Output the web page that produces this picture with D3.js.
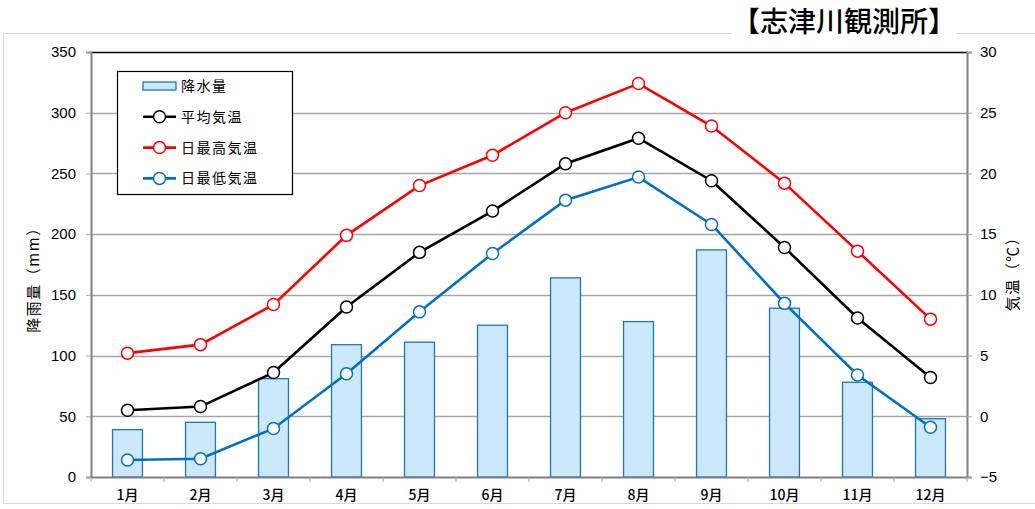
<!DOCTYPE html>
<html>
<head>
<meta charset="utf-8">
<script src="https://cdn.jsdelivr.net/npm/d3@7"></script>
<style>
  body { margin: 0; background: #fff; }
  svg { display: block; }
  .jp { font-family: "Noto Sans CJK JP", sans-serif; }
  .num { font-family: "Liberation Sans", Arial, sans-serif; }
</style>
</head>
<body>
<svg id="chart" width="1035" height="509"></svg>
<script>
// data
const months = ["1月", "2月", "3月", "4月", "5月", "6月", "7月", "8月", "9月", "10月", "11月", "12月"];
const rain = [39, 45, 81, 109, 111, 125, 164, 128, 187, 139, 78, 48];
const tempAvg = [0.5, 0.8, 3.6, 9.0, 13.5, 16.9, 20.8, 22.9, 19.4, 13.9, 8.1, 3.2];
const tempMax = [5.2, 5.9, 9.2, 14.9, 19.0, 21.5, 25.0, 27.4, 23.9, 19.2, 13.6, 8.0];
const tempMin = [-3.6, -3.5, -1.0, 3.5, 8.6, 13.4, 17.8, 19.7, 15.8, 9.3, 3.4, -0.9];
const rainTicks = [0, 50, 100, 150, 200, 250, 300, 350];
const tempTicks = [-5, 0, 5, 10, 15, 20, 25, 30];

const margin = { top: 52, right: 68, bottom: 32, left: 91 };
const W = 1035, H = 509;
const width = W - margin.left - margin.right;
const height = H - margin.top - margin.bottom;

const svg = d3.select("#chart");

// outer frame
svg.append("rect")
  .attr("x", 3.5).attr("y", 33.5)
  .attr("width", W + 10).attr("height", 470)
  .attr("fill", "none").attr("stroke", "#d9d9d9");

// title
const title = svg.append("text")
  .attr("class", "jp")
  .attr("x", 844).attr("y", 32)
  .attr("text-anchor", "middle")
  .attr("font-size", 28)
  .attr("font-weight", 500)
  .text("【志津川観測所】");
const tb = title.node().getBBox();
svg.insert("rect", "text")
  .attr("x", tb.x).attr("y", 20)
  .attr("width", tb.width).attr("height", 20)
  .attr("fill", "#fff");

const x = d3.scaleBand().domain(months).range([0, width]);
const yL = d3.scaleLinear().domain([0, 350]).range([height, 0]);
const yR = d3.scaleLinear().domain([-5, 30]).range([height, 0]);

const g = svg.append("g").attr("transform", `translate(${margin.left},${margin.top})`);

// gridlines
g.append("g")
  .selectAll("line")
  .data(rainTicks.filter(d => d > 0 && d < 350))
  .join("line")
  .attr("x1", 0).attr("x2", width)
  .attr("y1", d => Math.round(yL(d)) + 0.5).attr("y2", d => Math.round(yL(d)) + 0.5)
  .attr("stroke", "#a6a6a6").attr("stroke-width", 1.3);

// top border
g.append("line")
  .attr("x1", 0).attr("x2", width).attr("y1", 0.5).attr("y2", 0.5)
  .attr("stroke", "#000").attr("stroke-width", 1.3);

// bars
const barW = x.bandwidth() * 0.41;
g.append("g")
  .selectAll("rect")
  .data(rain)
  .join("rect")
  .attr("x", (d, i) => x(months[i]) + (x.bandwidth() - barW) / 2)
  .attr("y", d => yL(d))
  .attr("width", barW)
  .attr("height", d => height - yL(d))
  .attr("fill", "#cce9fb")
  .attr("stroke", "#1b75c2")
  .attr("stroke-width", 1.3);

// axes
const axisL = g.append("g")
  .call(d3.axisLeft(yL).tickValues(rainTicks).tickSize(5).tickPadding(10));
const axisR = g.append("g")
  .attr("transform", `translate(${width},0)`)
  .call(d3.axisRight(yR).tickValues(tempTicks).tickSize(5).tickPadding(8)
    .tickFormat(d => d < 0 ? "−" + Math.abs(d) : d));
const axisB = g.append("g")
  .attr("transform", `translate(0,${height})`)
  .call(d3.axisBottom(x).tickSize(0).tickPadding(13));

[axisL, axisR].forEach(a => {
  a.select(".domain").attr("stroke", "#808080").attr("stroke-width", 2);
  a.selectAll(".tick line").attr("stroke", "#a6a6a6");
  a.selectAll("text").attr("class", "num").attr("font-size", 15).attr("fill", "#000");
});
axisB.select(".domain").attr("stroke", "#808080").attr("stroke-width", 2);
axisB.selectAll("text").attr("class", "jp").attr("font-size", 14)
  .attr("font-weight", 500).attr("fill", "#000");

// category ticks at band edges
g.append("g")
  .selectAll("line")
  .data(d3.range(months.length + 1))
  .join("line")
  .attr("x1", i => i * x.step()).attr("x2", i => i * x.step())
  .attr("y1", height).attr("y2", height + 5)
  .attr("stroke", "#a6a6a6");

// lines
const cx = i => x(months[i]) + x.bandwidth() / 2;
const series = [
  { name: "平均気温", data: tempAvg, colour: "#000000" },
  { name: "日最高気温", data: tempMax, colour: "#ff0000" },
  { name: "日最低気温", data: tempMin, colour: "#0070c0" }
];
const line = d3.line().x((d, i) => cx(i)).y(d => yR(d));

series.forEach(s => {
  g.append("path")
    .datum(s.data)
    .attr("fill", "none")
    .attr("stroke", s.colour)
    .attr("stroke-width", 2.6)
    .attr("d", line);
  g.append("g")
    .selectAll("circle")
    .data(s.data)
    .join("circle")
    .attr("cx", (d, i) => cx(i))
    .attr("cy", d => yR(d))
    .attr("r", 6)
    .attr("fill", "#fff")
    .attr("stroke", s.colour)
    .attr("stroke-width", 1.5);
});

// axis titles
svg.append("text")
  .attr("class", "jp")
  .attr("transform", "translate(39,276) rotate(-90)")
  .attr("text-anchor", "middle")
  .attr("font-size", 15)
  .attr("letter-spacing", 1.5)
  .text("降雨量（mm）");
svg.append("text")
  .attr("class", "jp")
  .attr("transform", "translate(1018,270) rotate(-90)")
  .attr("text-anchor", "middle")
  .attr("font-size", 15)
  .attr("letter-spacing", 1.5)
  .text("気温（℃）");

// legend
const legend = svg.append("g");
legend.append("rect")
  .attr("x", 117.5).attr("y", 71.5).attr("width", 175).attr("height", 123)
  .attr("fill", "#fff").attr("stroke", "#000").attr("stroke-width", 1.2);

const legendItems = [{ name: "降水量", bar: true }].concat(series);
legendItems.forEach((it, i) => {
  const ly = 86 + i * 30.8;
  if (it.bar) {
    legend.append("rect")
      .attr("x", 143).attr("y", ly - 4).attr("width", 33).attr("height", 8)
      .attr("fill", "#cce9fb").attr("stroke", "#1b75c2").attr("stroke-width", 1.3);
  } else {
    legend.append("line")
      .attr("x1", 143).attr("x2", 176).attr("y1", ly).attr("y2", ly)
      .attr("stroke", it.colour).attr("stroke-width", 2.6);
    legend.append("circle")
      .attr("cx", 159.5).attr("cy", ly).attr("r", 6)
      .attr("fill", "#fff").attr("stroke", it.colour).attr("stroke-width", 1.5);
  }
  legend.append("text")
    .attr("class", "jp")
    .attr("x", 181).attr("y", ly + 5)
    .attr("font-size", 14)
    .attr("letter-spacing", 1.5)
    .text(it.name);
});
</script>
</body>
</html>
